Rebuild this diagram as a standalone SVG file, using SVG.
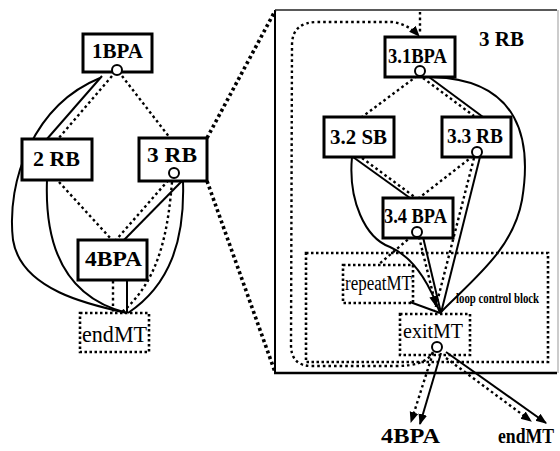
<svg xmlns="http://www.w3.org/2000/svg" width="560" height="451" viewBox="0 0 560 451">
<defs>
<style>
.box{fill:#fff;stroke:#000;stroke-width:3}
.dbox{fill:none;stroke:#000;stroke-width:2.6;stroke-dasharray:2.5 2.5}
.s{fill:none;stroke:#000;stroke-width:2}
.d{fill:none;stroke:#000;stroke-width:2.4;stroke-dasharray:2.6 3}
.dt{fill:none;stroke:#000;stroke-width:3.6;stroke-dasharray:3 3}
.port{fill:#fff;stroke:#000;stroke-width:2}
.tb{font-family:"Liberation Serif",serif;font-weight:bold;font-size:22px;fill:#000}
.tr{font-family:"Liberation Serif",serif;font-size:23px;fill:#000}
</style>
<marker id="arr" viewBox="0 0 10 10" refX="9" refY="5" markerWidth="11" markerHeight="11" markerUnits="userSpaceOnUse" orient="auto">
<path d="M0,1 L10,5 L0,9 Z" fill="#000"/>
</marker>
</defs>

<g id="frame">
<line x1="275" y1="10" x2="275" y2="373" stroke="#000" stroke-width="2"/>
<line x1="275" y1="10" x2="557" y2="10" stroke="#222" stroke-width="1.3"/>
<line x1="274" y1="373" x2="557" y2="373" stroke="#000" stroke-width="2.5"/>
<line x1="558" y1="10" x2="558" y2="373" stroke="#999" stroke-width="1"/>
<text class="tb" x="479" y="46" style="font-size:21px">3  RB</text>
</g>

<g id="connectors">
<line class="dt" x1="207" y1="138" x2="275" y2="11"/>
<line class="dt" x1="207" y1="181" x2="275" y2="372"/>
<line class="s" x1="102" y1="76" x2="47" y2="139"/>
<line class="d" x1="112" y1="76" x2="58" y2="139"/>
<line class="d" x1="122" y1="76" x2="170" y2="138"/>
<path class="s" d="M100,78 C 34,105 6,180 13,240 C 21,290 90,305 127,313"/>
<path class="s" d="M47,180 C 44,260 75,300 127,313"/>
<line class="d" x1="59" y1="182" x2="112" y2="240"/>
<line class="d" x1="172" y1="176" x2="116" y2="240"/>
<line class="s" x1="182" y1="181" x2="124" y2="240"/>
<path class="d" d="M172,182 C 168,230 160,280 122,312"/>
<path class="s" d="M183,181 C 185,240 170,285 128,313"/>
<line class="d" x1="113" y1="281" x2="113" y2="312"/>
<line class="s" x1="127" y1="281" x2="127" y2="313"/>
<line class="d" x1="420" y1="12" x2="420" y2="34"/>
<path class="d" d="M433,352 C 428,362 415,366 395,366 L 312,366 Q 291,366 291,345 L 292,45 Q 292,22 318,22 L 392,22 Q 408,24 419,36" marker-end="url(#arr)"/>
<line class="d" x1="417" y1="76" x2="362" y2="117"/>
<line class="d" x1="423" y1="78" x2="474" y2="116"/>
<line class="s" x1="429" y1="77" x2="483" y2="117"/>
<path class="s" d="M433,77 C 520,80 532,140 522,200 C 513,250 472,280 440,313"/>
<path class="s" d="M352,157 C 348,200 365,238 390,247 C 415,258 430,285 440,313"/>
<line class="s" x1="353" y1="157" x2="410" y2="198"/>
<line class="d" x1="362" y1="158" x2="416" y2="198"/>
<line class="d" x1="473" y1="156" x2="419" y2="198"/>
<line class="s" x1="480" y1="157" x2="441" y2="313"/>
<line class="d" x1="474" y1="158" x2="435" y2="310"/>
<line class="d" x1="412" y1="236" x2="378" y2="265"/>
<line class="d" x1="419" y1="237" x2="436" y2="306" marker-end="url(#arr)"/>
<line class="s" x1="423" y1="237" x2="441" y2="313"/>
<line class="s" x1="410" y1="302" x2="440" y2="313"/>
<line class="d" x1="433" y1="353" x2="411" y2="422" marker-end="url(#arr)"/>
<line class="s" x1="441" y1="353" x2="420" y2="424" marker-end="url(#arr)"/>
<line class="d" x1="446" y1="358" x2="531" y2="421" marker-end="url(#arr)"/>
<line class="s" x1="446" y1="352" x2="546" y2="423" marker-end="url(#arr)"/>
</g>

<g id="loop-block">
<rect class="dbox" x="306" y="253" width="242" height="109"/>
<text class="tb" transform="translate(456,303) scale(1,1.35)" x="0" y="0" style="font-size:10.8px">loop control block</text>
</g>

<g id="n1BPA">
<rect class="box" x="83" y="34" width="69" height="38"/>
<text class="tb" x="92" y="58" textLength="51" lengthAdjust="spacingAndGlyphs">1BPA</text>
<circle class="port" cx="117" cy="70" r="5"/>
</g>
<g id="n2RB">
<rect class="box" x="22" y="139" width="70" height="41"/>
<text class="tb" x="33" y="166" textLength="47" lengthAdjust="spacingAndGlyphs">2 RB</text>
</g>
<g id="n3RB">
<rect class="box" x="139" y="138" width="68" height="43"/>
<text class="tb" x="147" y="162" textLength="50" lengthAdjust="spacingAndGlyphs">3 RB</text>
<circle class="port" cx="174" cy="173" r="5"/>
</g>
<g id="n4BPA">
<rect class="box" x="78" y="240" width="69" height="40"/>
<text class="tb" x="85" y="266" textLength="57" lengthAdjust="spacingAndGlyphs">4BPA</text>
</g>
<g id="nEndMT">
<rect class="dbox" x="80" y="313" width="69" height="39"/>
<text class="tr" x="82" y="342" textLength="65" lengthAdjust="spacingAndGlyphs">endMT</text>
</g>

<g id="n31BPA">
<rect class="box" x="385" y="37" width="70" height="40"/>
<text class="tb" x="388" y="63" style="font-size:21px" textLength="59" lengthAdjust="spacingAndGlyphs">3.1BPA</text>
<circle class="port" cx="420" cy="71" r="5"/>
</g>
<g id="n32SB">
<rect class="box" x="324" y="117" width="70" height="40"/>
<text class="tb" x="330" y="144" textLength="57" lengthAdjust="spacingAndGlyphs">3.2 SB</text>
</g>
<g id="n33RB">
<rect class="box" x="442" y="117" width="69" height="40"/>
<text class="tb" x="447" y="143" textLength="56" lengthAdjust="spacingAndGlyphs">3.3 RB</text>
<circle class="port" cx="477" cy="152" r="5"/>
</g>
<g id="n34BPA">
<rect class="box" x="383" y="198" width="70" height="40"/>
<text class="tb" x="384" y="223" style="font-size:21px" textLength="63" lengthAdjust="spacingAndGlyphs">3.4 BPA</text>
<circle class="port" cx="417" cy="232" r="5"/>
</g>
<g id="nRepeatMT">
<rect class="dbox" x="343" y="265" width="70" height="38"/>
<text class="tr" x="345" y="290" style="font-size:20px" textLength="67" lengthAdjust="spacingAndGlyphs">repeatMT</text>
</g>
<g id="nExitMT">
<rect class="dbox" x="400" y="314" width="70" height="41"/>
<text class="tr" x="403" y="338" style="font-size:22px" textLength="60" lengthAdjust="spacingAndGlyphs">exitMT</text>
<circle class="port" cx="437" cy="347" r="5"/>
</g>

<g id="out4BPA">
<text class="tb" x="381" y="443" textLength="59" lengthAdjust="spacingAndGlyphs">4BPA</text>
</g>
<g id="outEndMT">
<text class="tb" transform="translate(498,443) scale(1,1.2)" x="0" y="0" style="font-size:17.7px">endMT</text>
</g>
</svg>
